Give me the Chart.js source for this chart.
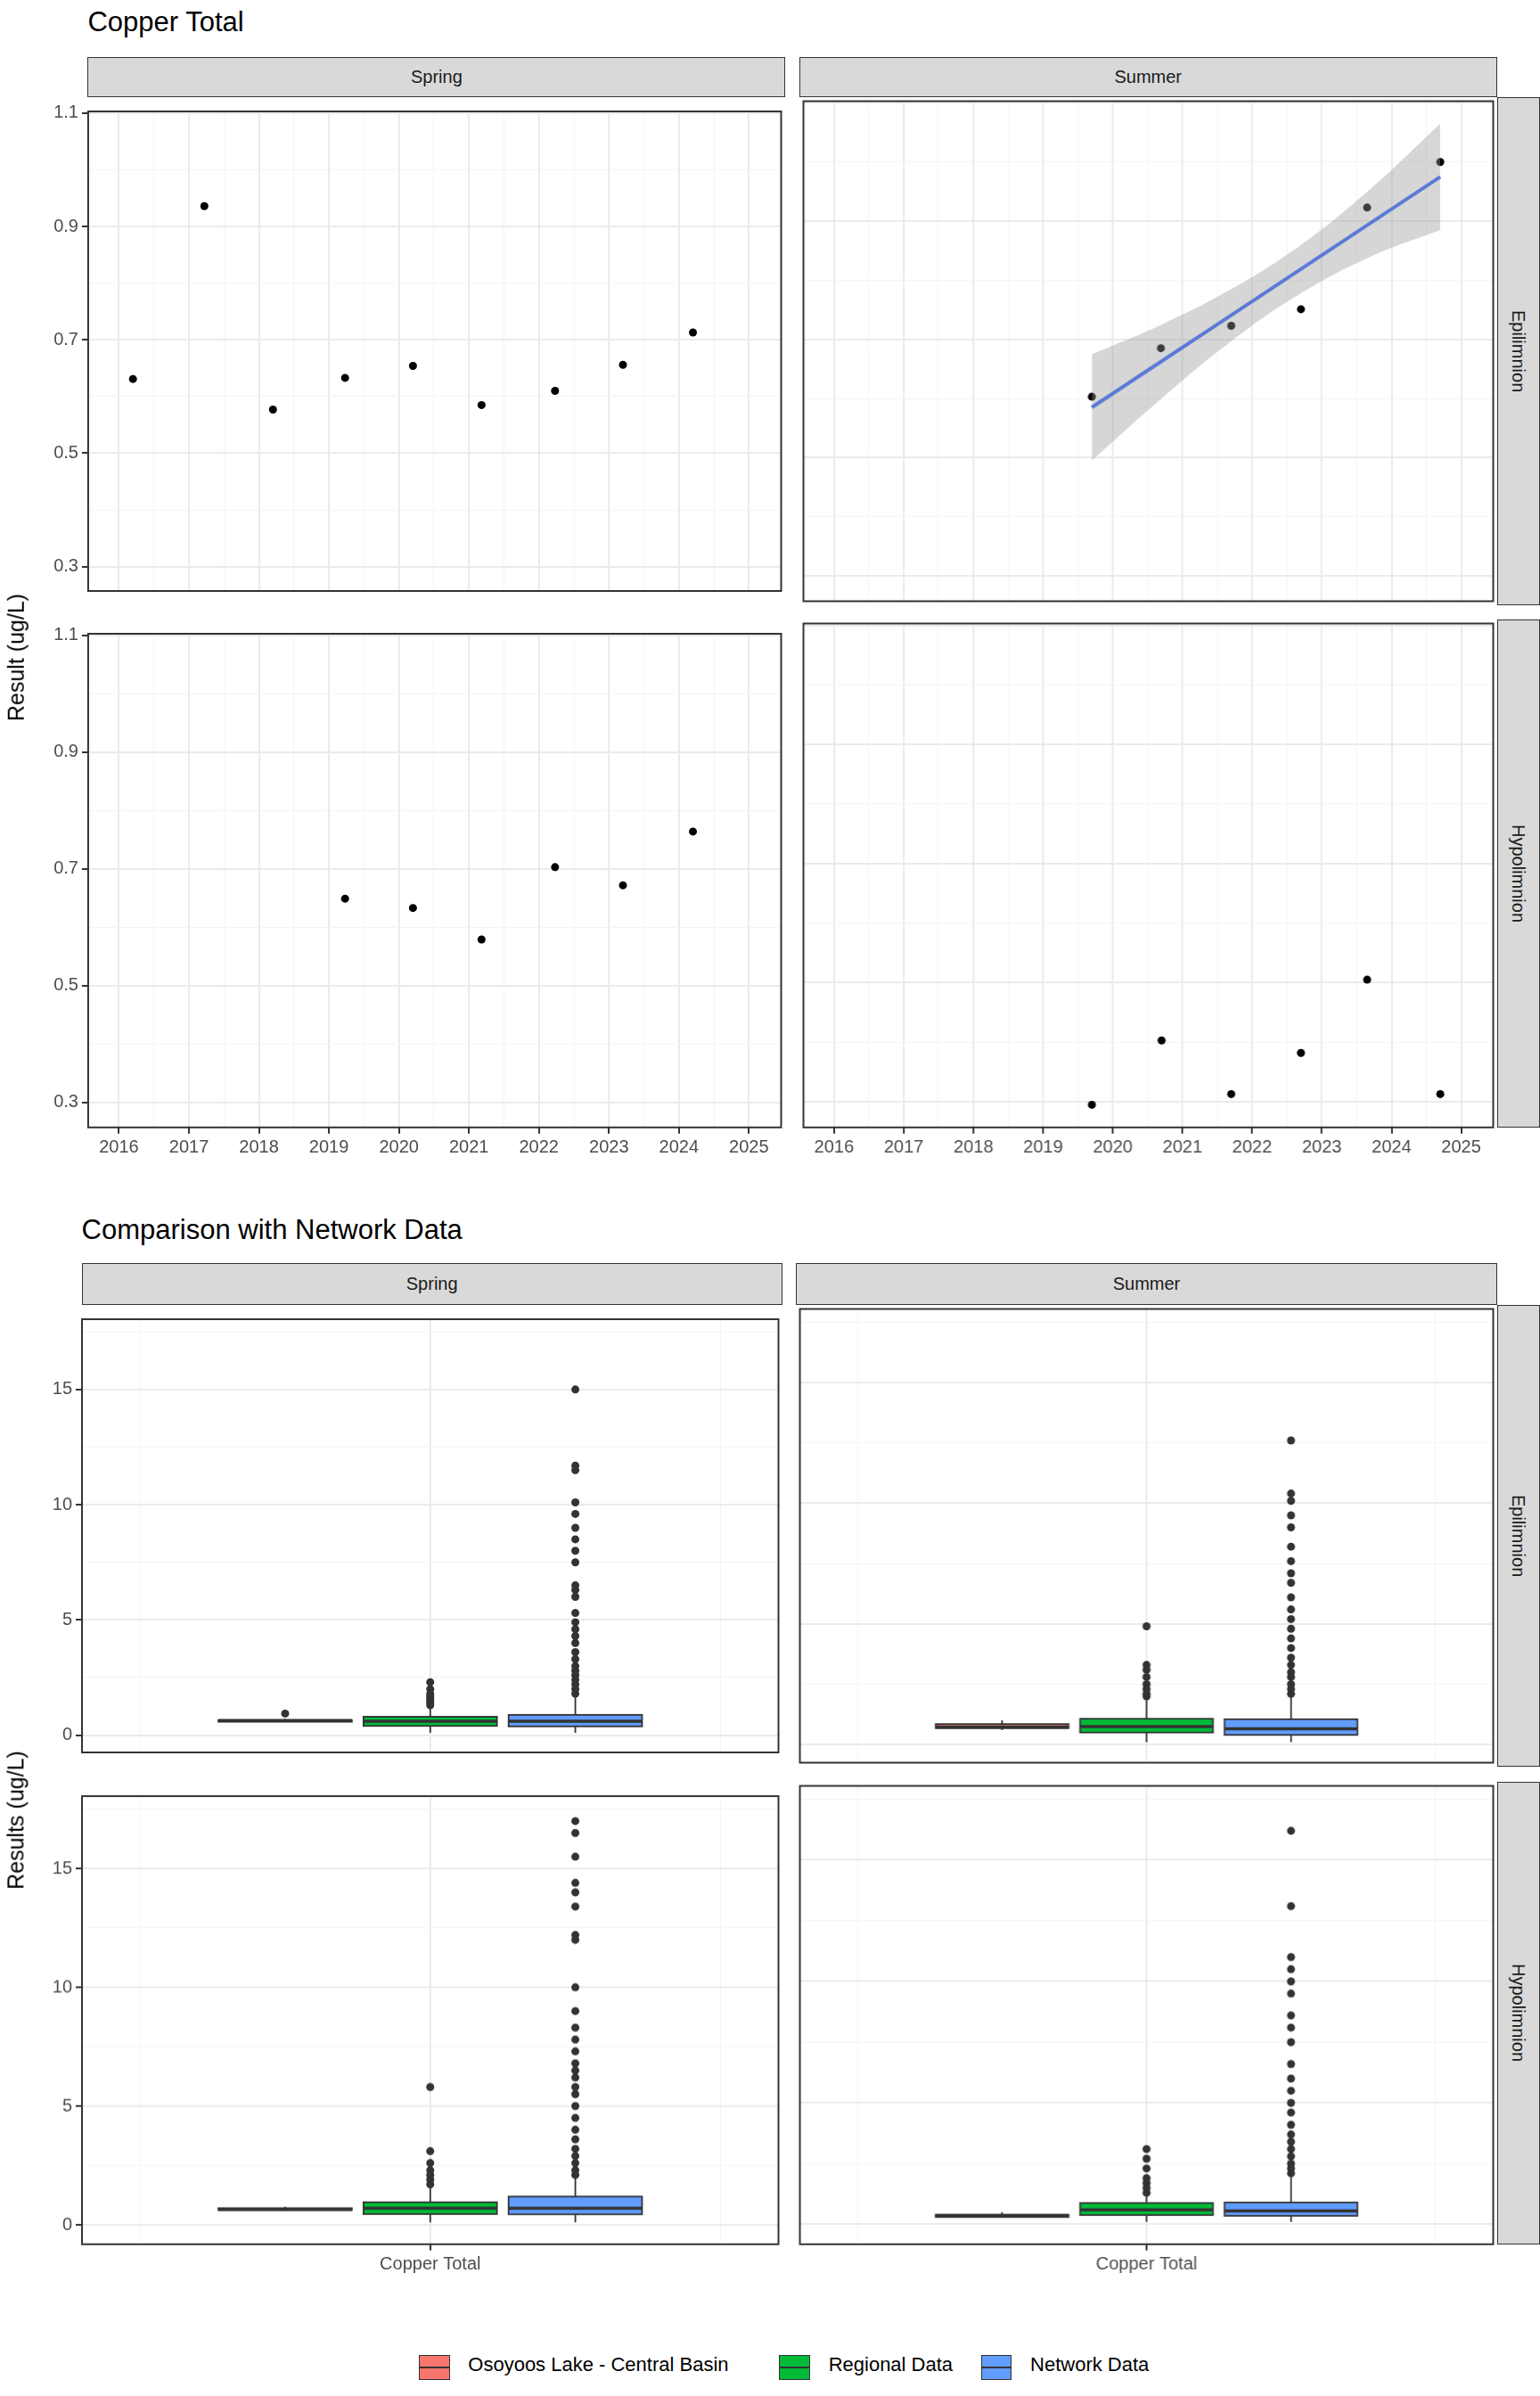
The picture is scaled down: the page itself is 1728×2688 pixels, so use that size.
<!DOCTYPE html>
<html>
<head>
<meta charset="utf-8">
<script src="https://cdn.jsdelivr.net/npm/chart.js@4.4.1/dist/chart.umd.min.js"></script>
<style>
  body { margin: 0; background: #fff; font-family: "Liberation Sans", Arial, sans-serif; }
  #page { position: relative; width: 1728px; height: 2688px; }
  .abs { position: absolute; }
  .strip { position: absolute; background: #D9D9D9; border: 1.5px solid #333; box-sizing: border-box;
           display: flex; align-items: center; justify-content: center; font-size: 20px; color: #1A1A1A; }
  .vtext { writing-mode: vertical-rl; }
  .title { position: absolute; font-size: 31px; color: #000; }
  .ytitle { position: absolute; font-size: 25px; transform: rotate(-90deg); transform-origin: center; white-space: nowrap; }
  .leg { position: absolute; font-size: 22px; color: #000; }
  .sw { position: absolute; width: 34px; height: 27px; border: 1.5px solid #333; box-sizing: border-box; }
  .sw::after { content: ""; position: absolute; left: 0; right: 0; top: 12px; height: 2px; background: #333; }
</style>
</head>
<body>
<div id="page"></div>
<script>
const S = 1.728;

// ---- top: Copper Total over time ----
const springEpiX = [2016.2, 2017.22, 2018.2, 2019.23, 2020.2, 2021.18, 2022.23, 2023.2, 2024.2];
const springEpiY = [0.631, 0.936, 0.577, 0.633, 0.654, 0.585, 0.61, 0.656, 0.713];
const summerEpiX = [2019.7, 2020.69, 2021.7, 2022.7, 2023.65, 2024.7];
const summerEpiY = [0.603, 0.685, 0.723, 0.751, 0.923, 1.0];
const fitX = [2019.7, 2020.7, 2021.7, 2022.7, 2023.7, 2024.7];
const fitY = [0.585, 0.663, 0.741, 0.819, 0.897, 0.975];
const fitUpper = [0.675, 0.725, 0.785, 0.86, 0.955, 1.065];
const fitLower = [0.495, 0.60, 0.697, 0.778, 0.84, 0.885];
const springHypoX = [2019.23, 2020.2, 2021.18, 2022.23, 2023.2, 2024.2];
const springHypoY = [0.649, 0.633, 0.579, 0.703, 0.672, 0.764];
const summerHypoX = [2019.7, 2020.7, 2021.7, 2022.7, 2023.65, 2024.7];
const summerHypoY = [0.295, 0.403, 0.313, 0.382, 0.505, 0.313];

// ---- bottom: comparison boxplots ----
const groups = ['Osoyoos Lake - Central Basin', 'Regional Data', 'Network Data'];
const groupColors = ['#F8766D', '#00BA38', '#619CFF'];
const groupPos = [0.75, 1.0, 1.25];
// [lo, q1, median, q3, hi] per group
const springEpiBox = [[0.575, 0.58, 0.63, 0.65, 0.71], [0.1, 0.4, 0.6, 0.8, 1.25], [0.1, 0.38, 0.6, 0.88, 1.65]];
const springEpiOut = [[0.935],
  [1.3, 1.4, 1.5, 1.6, 1.7, 1.8, 2.0, 2.3],
  [1.8, 2.0, 2.2, 2.4, 2.6, 2.8, 3.0, 3.3, 3.6, 4.0, 4.3, 4.6, 4.9, 5.3, 6.0, 6.3, 6.5, 7.5, 8.0, 8.5, 9.0, 9.6, 10.1, 11.5, 11.7, 15.0]];
const summerEpiBox = [[0.6, 0.68, 0.73, 0.85, 1.0], [0.1, 0.5, 0.75, 1.07, 1.9], [0.1, 0.4, 0.65, 1.05, 2.0]];
const summerEpiOut = [[],
  [2.0, 2.1, 2.3, 2.5, 2.8, 3.1, 3.3, 4.9],
  [2.1, 2.3, 2.5, 2.8, 3.0, 3.3, 3.6, 4.0, 4.4, 4.8, 5.2, 5.6, 6.1, 6.7, 7.1, 7.6, 8.2, 9.0, 9.5, 10.1, 10.4, 12.6]];
const springHypoBox = [[0.58, 0.62, 0.65, 0.70, 0.76], [0.1, 0.45, 0.7, 0.95, 1.6], [0.1, 0.44, 0.7, 1.19, 2.0]];
const springHypoOut = [[],
  [1.7, 1.9, 2.1, 2.3, 2.6, 3.1, 5.8],
  [2.1, 2.3, 2.6, 2.9, 3.2, 3.6, 4.0, 4.5, 5.0, 5.5, 5.8, 6.2, 6.5, 6.8, 7.3, 7.8, 8.3, 9.0, 10.0, 12.0, 12.2, 13.4, 14.0, 14.4, 15.5, 16.5, 17.0]];
const summerHypoBox = [[0.29, 0.3, 0.35, 0.4, 0.5], [0.1, 0.38, 0.6, 0.88, 1.2], [0.1, 0.35, 0.55, 0.9, 2.0]];
const summerHypoOut = [[],
  [1.3, 1.5, 1.7, 1.9, 2.3, 2.7, 3.1],
  [2.1, 2.3, 2.5, 2.8, 3.1, 3.4, 3.7, 4.1, 4.6, 5.0, 5.5, 6.0, 6.6, 7.5, 8.1, 8.6, 9.5, 10.0, 10.5, 11.0, 13.1, 16.2]];

const page = document.getElementById('page');

function addDiv(cls, x, y, w, h, text) {
  const d = document.createElement('div');
  d.className = cls;
  d.style.left = x * S + 'px'; d.style.top = y * S + 'px';
  if (w != null) d.style.width = w * S + 'px';
  if (h != null) d.style.height = h * S + 'px';
  if (text != null) d.textContent = text;
  page.appendChild(d);
  return d;
}

function range(a, b, step) {
  const out = [];
  for (let v = a; v <= b + 1e-9; v += step) out.push(+v.toFixed(4));
  return out;
}

const frame = {
  id: 'frame',
  afterDraw(chart) {
    const a = chart.chartArea, c = chart.ctx;
    c.save(); c.strokeStyle = '#333'; c.lineWidth = 2;
    c.strokeRect(a.left, a.top, a.right - a.left, a.bottom - a.top);
    c.restore();
  }
};

const boxes = {
  id: 'boxes',
  afterDatasetsDraw(chart, args, opts) {
    if (!opts.stats) return;
    const c = chart.ctx, xs = chart.scales.x, ys = chart.scales.y;
    c.save();
    c.beginPath(); c.rect(chart.chartArea.left, chart.chartArea.top, chart.chartArea.right - chart.chartArea.left, chart.chartArea.bottom - chart.chartArea.top); c.clip();
    opts.stats.forEach((s, i) => {
      const [lo, q1, med, q3, hi] = s;
      const xc = xs.getPixelForValue(groupPos[i]);
      const x0 = xs.getPixelForValue(groupPos[i] - 0.115), x1 = xs.getPixelForValue(groupPos[i] + 0.115);
      c.strokeStyle = '#333'; c.lineWidth = 1.8;
      c.beginPath();
      c.moveTo(xc, ys.getPixelForValue(q3)); c.lineTo(xc, ys.getPixelForValue(hi));
      c.moveTo(xc, ys.getPixelForValue(q1)); c.lineTo(xc, ys.getPixelForValue(lo));
      c.stroke();
      const yt = ys.getPixelForValue(q3), yb = ys.getPixelForValue(q1);
      c.fillStyle = groupColors[i];
      c.fillRect(x0, yt, x1 - x0, yb - yt);
      c.strokeRect(x0, yt, x1 - x0, yb - yt);
      c.lineWidth = 3.5;
      c.beginPath();
      c.moveTo(x0, ys.getPixelForValue(med)); c.lineTo(x1, ys.getPixelForValue(med));
      c.stroke();
    });
    c.restore();
  }
};

function makePanel(p) {
  const cv = document.createElement('canvas');
  const W = (p.w + p.L) * S, H = (p.h + p.B) * S;
  cv.width = W; cv.height = H;
  cv.style.position = 'absolute';
  cv.style.left = (p.x - p.L) * S + 'px'; cv.style.top = p.y * S + 'px';
  cv.style.width = W + 'px'; cv.style.height = H + 'px';
  page.appendChild(cv);
  const gridColor = (isMajor) => (c) => isMajor(c.tick.value) ? '#EBEBEB' : '#F4F4F4';
  const gridWidth = (isMajor) => (c) => isMajor(c.tick.value) ? 2 : 1;
  const tickColor = (isMajor) => (c) => isMajor(c.tick.value) ? '#333' : 'rgba(0,0,0,0)';
  new Chart(cv, {
    type: 'scatter',
    data: { datasets: p.datasets },
    plugins: [frame, boxes],
    options: {
      responsive: false, animation: false, devicePixelRatio: 1,
      layout: { padding: 0 },
      plugins: { legend: { display: false }, tooltip: { enabled: false }, boxes: { stats: p.stats } },
      scales: {
        x: {
          type: 'linear', min: p.xMin, max: p.xMax,
          afterBuildTicks: (s) => { s.ticks = p.xTicks.map(v => ({ value: v })); },
          afterFit: (s) => { s.height = p.B * S; },
          border: { display: false },
          grid: { color: gridColor(p.xMajor), lineWidth: gridWidth(p.xMajor), drawTicks: p.B > 0,
                  tickLength: 7, tickColor: tickColor(p.xMajor) },
          ticks: { display: p.B > 0, autoSkip: false, maxRotation: 0, padding: 4,
                   color: '#4D4D4D', font: { size: 20, family: 'Liberation Sans' },
                   callback: (v) => p.xMajor(v) ? p.xLabel(v) : '' }
        },
        y: {
          type: 'linear', min: p.yMin, max: p.yMax,
          afterBuildTicks: (s) => { s.ticks = p.yTicks.map(v => ({ value: v })); },
          afterFit: (s) => { s.width = p.L * S; },
          border: { display: false },
          grid: { color: gridColor(p.yMajor), lineWidth: gridWidth(p.yMajor), drawTicks: p.L > 0,
                  tickLength: 7, tickColor: tickColor(p.yMajor) },
          ticks: { display: p.L > 0, autoSkip: false, padding: 4,
                   color: '#4D4D4D', font: { size: 20, family: 'Liberation Sans' },
                   callback: (v) => p.yMajor(v) ? p.yLabel(v) : '' }
        }
      }
    }
  });
}

function pts(xs, ys) { return xs.map((x, i) => ({ x, y: ys[i] })); }
function dots(xs, ys) {
  return { data: pts(xs, ys), pointRadius: 4.5, pointBackgroundColor: '#000', pointBorderWidth: 0 };
}

// ---------- Top section ----------
addDiv('title', 57, 4, null, null, 'Copper Total');
const topX = { xMin: 2015.56, xMax: 2025.46, xTicks: range(2015.5, 2025.5, 0.5).filter(v => v >= 2015.56 && v <= 2025.46),
  xMajor: v => Math.abs(v - Math.round(v)) < 1e-6, xLabel: v => String(v) };
const topY = { yMin: 0.257, yMax: 1.103, yTicks: range(0.3, 1.1, 0.1),
  yMajor: v => Math.round(v * 10) % 2 === 1, yLabel: v => v.toFixed(1) };

const ribbon = [
  { type: 'line', data: pts(fitX, fitUpper), borderWidth: 0, pointRadius: 0, fill: '+1', backgroundColor: 'rgba(153,153,153,0.4)', tension: 0.4 },
  { type: 'line', data: pts(fitX, fitLower), borderWidth: 0, pointRadius: 0, fill: false, tension: 0.4 },
  { type: 'line', data: pts(fitX, fitY), borderColor: '#3366FF', borderWidth: 4, pointRadius: 0, fill: false }
];

makePanel({ x: 57, y: 63, w: 453, h: 330, L: 37, B: 0, ...topX, ...topY, datasets: [dots(springEpiX, springEpiY)] });
makePanel({ x: 519, y: 63, w: 453, h: 330, L: 0, B: 0, ...topX, ...topY, datasets: [...ribbon, dots(summerEpiX, summerEpiY)] });
makePanel({ x: 57, y: 402, w: 453, h: 330, L: 37, B: 25, ...topX, ...topY, datasets: [dots(springHypoX, springHypoY)] });
makePanel({ x: 519, y: 402, w: 453, h: 330, L: 0, B: 25, ...topX, ...topY, datasets: [dots(summerHypoX, summerHypoY)] });

addDiv('strip', 57, 37, 453, 26, 'Spring');
addDiv('strip', 519, 37, 453, 26, 'Summer');
addDiv('strip vtext', 972, 63, 28, 330, 'Epilimnion');
addDiv('strip vtext', 972, 402, 28, 330, 'Hypolimnion');
const yt1 = addDiv('ytitle', -54, 384, 140, 28, 'Result (ug/L)');

// ---------- Bottom section ----------
addDiv('title', 53, 788, null, null, 'Comparison with Network Data');
const botX = { xMin: 0.4, xMax: 1.6, xTicks: range(0.5, 1.5, 0.5),
  xMajor: v => Math.abs(v - 1) < 1e-6, xLabel: () => 'Copper Total' };
const botY = (lo) => ({ yMin: lo, yMax: 18.05, yTicks: range(0, 17.5, 2.5),
  yMajor: v => Math.abs(v % 5) < 1e-6, yLabel: v => String(v) });

function outDots(out) {
  const d = [];
  out.forEach((arr, i) => arr.forEach(v => d.push({ x: groupPos[i], y: v })));
  return { data: d, pointRadius: 4.5, pointBackgroundColor: '#333', pointBorderWidth: 0 };
}

makePanel({ x: 53, y: 847, w: 455, h: 300, L: 33, B: 0, ...botX, ...botY(-0.75), stats: springEpiBox, datasets: [outDots(springEpiOut)] });
makePanel({ x: 517, y: 847, w: 455, h: 300, L: 0, B: 0, ...botX, ...botY(-0.75), stats: summerEpiBox, datasets: [outDots(summerEpiOut)] });
makePanel({ x: 53, y: 1157, w: 455, h: 300, L: 33, B: 25, ...botX, ...botY(-0.82), stats: springHypoBox, datasets: [outDots(springHypoOut)] });
makePanel({ x: 517, y: 1157, w: 455, h: 300, L: 0, B: 25, ...botX, ...botY(-0.82), stats: summerHypoBox, datasets: [outDots(summerHypoOut)] });

addDiv('strip', 53, 820, 455, 27, 'Spring');
addDiv('strip', 517, 820, 455, 27, 'Summer');
addDiv('strip vtext', 972, 847, 28, 300, 'Epilimnion');
addDiv('strip vtext', 972, 1157, 28, 300, 'Hypolimnion');
addDiv('ytitle', -59, 1138, 150, 28, 'Results (ug/L)');

// legend
const legX = [272, 506, 637];
groups.forEach((g, i) => {
  const sw = addDiv('sw', legX[i], 1529, 20, 16);
  sw.style.background = groupColors[i];
  addDiv('leg', legX[i] + 32, 1528, null, null, g);
});
</script>
</body>
</html>
